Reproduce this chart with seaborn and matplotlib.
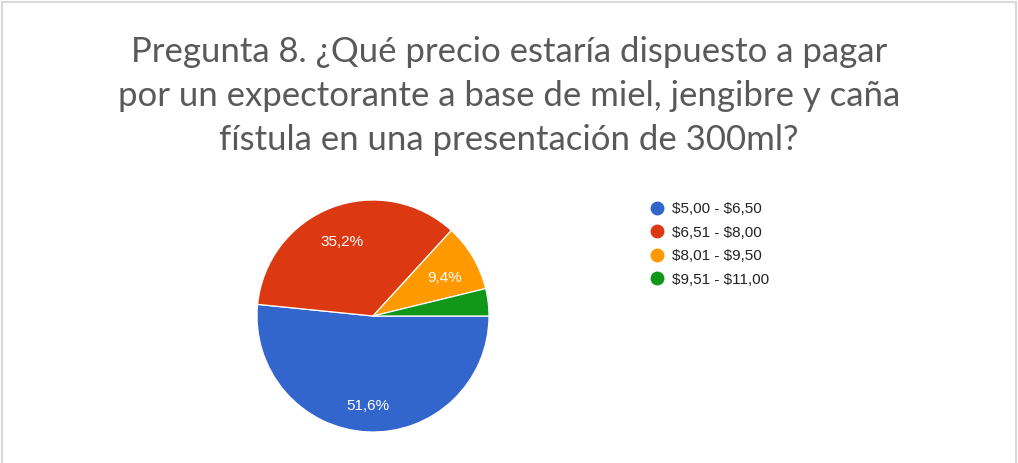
import matplotlib
matplotlib.use('Agg')
import matplotlib.pyplot as plt
import seaborn as sns
from matplotlib.lines import Line2D

# datos
rangos = ['$5,00 - $6,50', '$6,51 - $8,00', '$8,01 - $9,50', '$9,51 - $11,00']
porcentajes = [51.6, 35.2, 9.4, 3.8]
colores = ['#3366cc', '#dc3912', '#ff9900', '#109618']
titulo = ('Pregunta 8. ¿Qué precio estaría dispuesto a pagar\n'
          'por un expectorante a base de miel, jengibre y caña\n'
          'fístula en una presentación de 300ml?')

sns.set_style('white')
plt.rcParams['font.family'] = ['Liberation Sans', 'DejaVu Sans']

W, H = 1018, 463
fig = plt.figure(figsize=(W / 100, H / 100), dpi=100)

# pie: centro (373, 316), radio 116 px
cx, cy, r = 373, 316, 116
ax = fig.add_axes([(cx - r) / W, (H - cy - r) / H, 2 * r / W, 2 * r / H])
pal = sns.color_palette(colores)


def etiqueta(p):
    if p < 5:
        return ''
    return f'{p:.1f}%'.replace('.', ',')


wedges, textos, pct = ax.pie(porcentajes, colors=pal, startangle=0,
                             counterclock=False, autopct=etiqueta,
                             pctdistance=0.73,
                             wedgeprops=dict(edgecolor='white', linewidth=0.9),
                             textprops=dict(color='white', fontsize=11))
for t in pct:
    x, y = t.get_position()
    t.set_position((x - 0.01, y - 0.045))
ax.set_xlim(-1, 1)
ax.set_ylim(-1, 1)
ax.set_aspect('equal')

# titulo
fig.text(509 / W, 1 - 96 / H, titulo, ha='center', va='center',
         fontsize=25, color='#595959', family=['Lato', 'DejaVu Sans'],
         linespacing=1.45)

# leyenda
handles = [Line2D([], [], marker='o', linestyle='', markersize=9,
                  markerfacecolor=c, markeredgecolor=c) for c in colores]
etiquetas = [t.replace('$', r'\$') for t in rangos]
fig.legend(handles, etiquetas, loc='upper left',
           bbox_to_anchor=(642 / W, 1 - 196 / H), frameon=False,
           fontsize=11, labelcolor='#222222', handletextpad=0.35,
           labelspacing=0.62, borderaxespad=0, handlelength=1.2)

# borde gris
for xs, ys in [([2 / W, 2 / W], [0, 1 - 2 / H]),
               ([1016 / W, 1016 / W], [0, 1 - 2 / H]),
               ([2 / W, 1016 / W], [1 - 2 / H, 1 - 2 / H])]:
    fig.add_artist(Line2D(xs, ys, color='#d9d9d9', linewidth=1.5))

plt.savefig('out.png', dpi=100)
